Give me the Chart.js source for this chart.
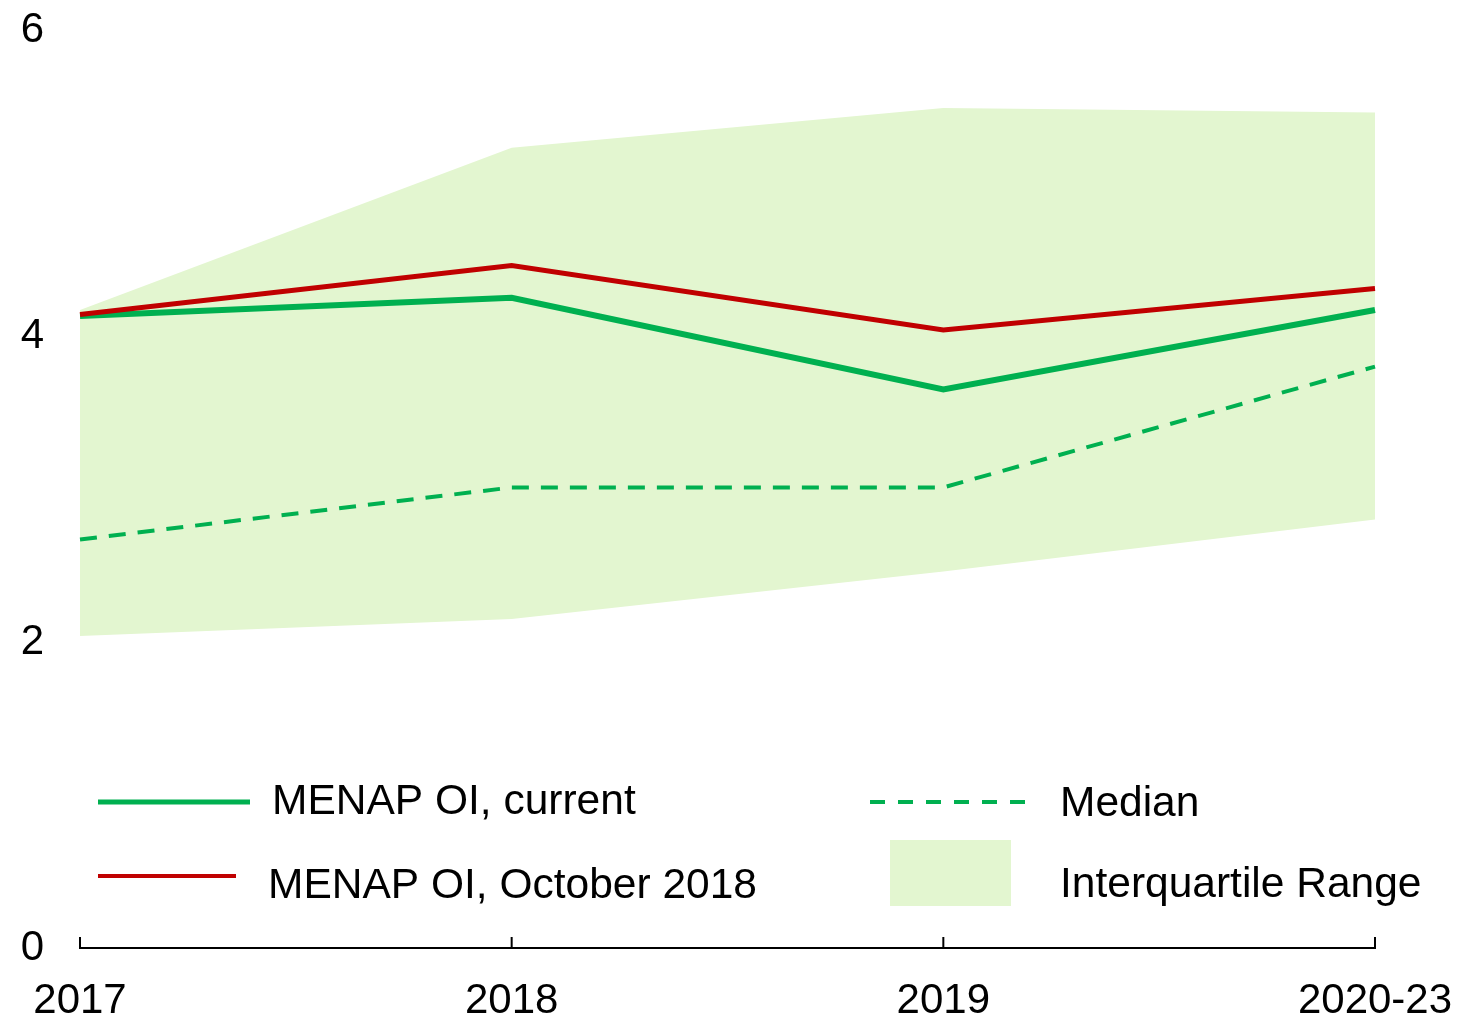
<!DOCTYPE html>
<html>
<head>
<meta charset="utf-8">
<script src="https://cdn.jsdelivr.net/npm/chart.js@4.4.0/dist/chart.umd.min.js"></script>
<style>
  html, body { margin: 0; padding: 0; background: #fff; }
  #wrap { width: 1458px; height: 1025px; }
</style>
</head>
<body>
<div id="wrap"><canvas id="oilChart"></canvas></div>
<script>
var years = ['2017', '2018', '2019', '2020-23'];
var menapCurrent = [4.13, 4.25, 3.65, 4.17];
var menapOct2018 = [4.14, 4.46, 4.04, 4.31];
var medianVals = [2.67, 3.01, 3.01, 3.80];
var iqrUpper = [4.17, 5.23, 5.49, 5.46];
var iqrLower = [2.04, 2.15, 2.46, 2.80];
var yTicks = [0, 2, 4, 6];

var green = '#00b050';
var red = '#c00000';
var fillGreen = '#e3f6d0';
var font = 'Liberation Sans, Arial, sans-serif';

// little upward ticks on the x axis + the hand placed legend
var extras = {
  id: 'extras',
  afterDraw: function(chart) {
    var c = chart.ctx;
    var x = chart.scales.x;
    var y0 = chart.scales.y.getPixelForValue(0);
    c.save();
    c.strokeStyle = '#000';
    c.lineWidth = 2;
    x.ticks.forEach(function(t, i) {
      var px = x.getPixelForTick(i);
      c.beginPath();
      c.moveTo(px, y0);
      c.lineTo(px, y0 - 11);
      c.stroke();
    });

    var ds = chart.data.datasets;
    c.font = '42.5px ' + font;
    c.fillStyle = '#000';
    c.textBaseline = 'middle';

    c.strokeStyle = green; c.lineWidth = 5;
    c.beginPath(); c.moveTo(98, 802); c.lineTo(250, 802); c.stroke();
    c.fillText(ds[1].label, 272, 802);

    c.strokeStyle = red; c.lineWidth = 4;
    c.beginPath(); c.moveTo(98, 876); c.lineTo(236, 876); c.stroke();
    c.fillText(ds[0].label, 268, 886);

    c.strokeStyle = green; c.lineWidth = 4;
    c.setLineDash([15, 13]);
    c.beginPath(); c.moveTo(870, 802); c.lineTo(1025, 802); c.stroke();
    c.setLineDash([]);
    c.fillText(ds[2].label, 1060, 804);

    c.fillStyle = fillGreen;
    c.fillRect(890, 840, 121, 66);
    c.fillStyle = '#000';
    c.fillText(ds[3].label, 1060, 885);
    c.restore();
  }
};

new Chart(document.getElementById('oilChart'), {
  type: 'line',
  data: {
    labels: years,
    datasets: [
      { label: 'MENAP OI, October 2018', data: menapOct2018, borderColor: red, borderWidth: 5, pointRadius: 0, tension: 0, fill: false },
      { label: 'MENAP OI, current', data: menapCurrent, borderColor: green, borderWidth: 6, pointRadius: 0, tension: 0, fill: false },
      { label: 'Median', data: medianVals, borderColor: green, borderWidth: 4, borderDash: [17, 12], pointRadius: 0, tension: 0, fill: false },
      { label: 'Interquartile Range', data: iqrUpper, borderWidth: 0, borderColor: 'rgba(0,0,0,0)', backgroundColor: fillGreen, pointRadius: 0, tension: 0, fill: '+1' },
      { label: 'IQR lower', data: iqrLower, borderWidth: 0, borderColor: 'rgba(0,0,0,0)', pointRadius: 0, tension: 0, fill: false }
    ]
  },
  options: {
    responsive: true,
    maintainAspectRatio: false,
    animation: false,
    layout: { autoPadding: false, padding: { top: 30, right: 83, bottom: 0, left: 0 } },
    plugins: { legend: { display: false }, tooltip: { enabled: false } },
    scales: {
      x: {
        offset: false,
        grid: { display: false },
        border: { display: true, color: '#000', width: 2 },
        afterFit: function(s) { s.height = 77; s.paddingLeft = 0; s.paddingRight = 0; },
        ticks: { color: '#000', font: { family: font, size: 42 }, padding: 20, maxRotation: 0, autoSkip: false }
      },
      y: {
        min: 0, max: 6,
        afterBuildTicks: function(s) { s.ticks = yTicks.map(function(v) { return { value: v }; }); },
        afterFit: function(s) { s.width = 80; s.paddingTop = 0; s.paddingBottom = 0; },
        grid: { display: false },
        border: { display: false },
        ticks: { color: '#000', font: { family: font, size: 42 }, padding: 28 }
      }
    }
  },
  plugins: [extras]
});
</script>
</body>
</html>
